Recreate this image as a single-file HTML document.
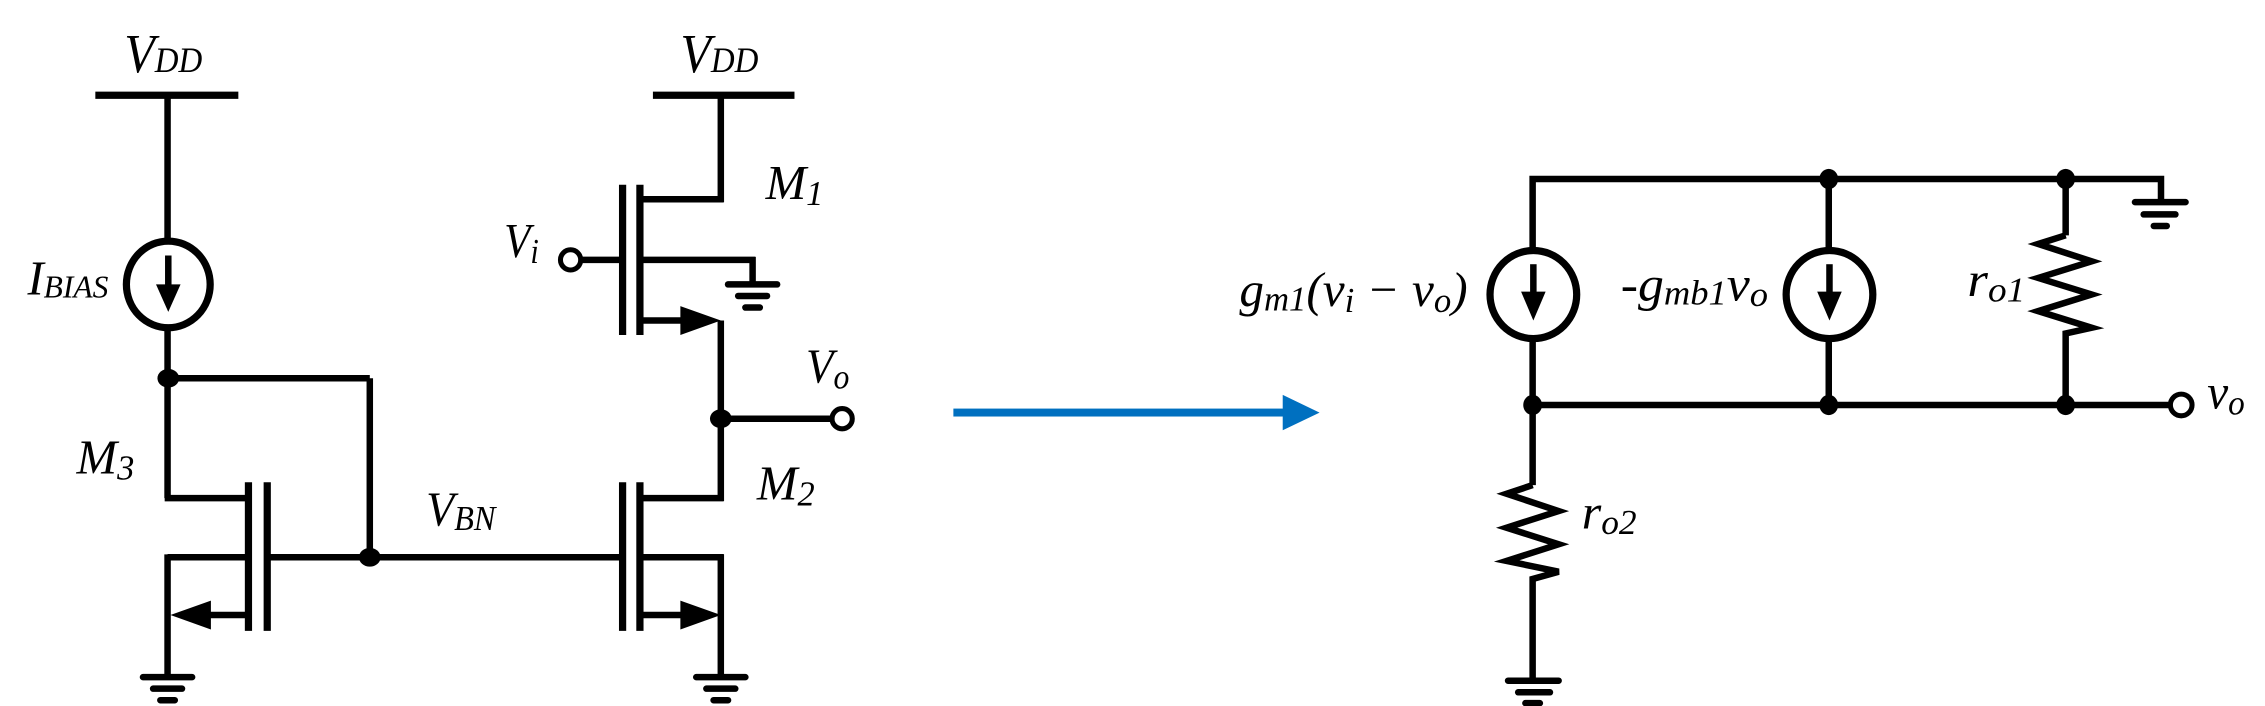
<!DOCTYPE html>
<html><head><meta charset="utf-8"><style>
html,body{margin:0;padding:0;background:#fff;}
svg{display:block;}
text{font-family:"Liberation Serif",serif;font-style:italic;fill:#000;}
</style></head><body>
<svg width="2265" height="706" viewBox="0 0 1568 489" preserveAspectRatio="none" xmlns="http://www.w3.org/2000/svg">
<g stroke="#000" stroke-width="4.5" fill="none" stroke-linecap="butt">
  <line x1="66" y1="66" x2="165" y2="66" stroke-width="5"/>
  <line x1="116" y1="66" x2="116" y2="167"/>
  <ellipse cx="116.5" cy="197" rx="29" ry="30" stroke-width="5"/>
  <line x1="116.5" y1="177" x2="116.5" y2="200"/>
  <line x1="116" y1="227" x2="116" y2="345"/>
  <line x1="116" y1="262" x2="256" y2="262"/>
  <line x1="256" y1="262" x2="256" y2="387"/>
  <line x1="114" y1="345" x2="174" y2="345"/>
  <line x1="172" y1="334" x2="172" y2="437" stroke-width="5"/>
  <line x1="185" y1="334" x2="185" y2="437" stroke-width="5"/>
  <line x1="185" y1="386" x2="431" y2="386"/>
  <line x1="116" y1="386" x2="172" y2="386"/>
  <line x1="116" y1="384" x2="116" y2="469"/>
  <line x1="140" y1="426" x2="172" y2="426"/>
  <line x1="431" y1="334" x2="431" y2="437" stroke-width="5"/>
  <line x1="443" y1="334" x2="443" y2="437" stroke-width="5"/>
  <line x1="443" y1="345" x2="501" y2="345"/>
  <line x1="443" y1="386" x2="501" y2="386"/>
  <line x1="443" y1="426" x2="475" y2="426"/>
  <line x1="499" y1="222" x2="499" y2="347"/>
  <line x1="499" y1="384" x2="499" y2="469"/>
  <line x1="499" y1="290" x2="577" y2="290"/>
  <line x1="452" y1="66" x2="550" y2="66" stroke-width="5"/>
  <line x1="499" y1="66" x2="499" y2="140"/>
  <line x1="431" y1="128" x2="431" y2="232" stroke-width="5"/>
  <line x1="443" y1="128" x2="443" y2="232" stroke-width="5"/>
  <line x1="443" y1="138" x2="501" y2="138"/>
  <line x1="443" y1="180" x2="523" y2="180"/>
  <line x1="521" y1="178" x2="521" y2="197"/>
  <line x1="443" y1="222" x2="475" y2="222"/>
  <line x1="402" y1="180" x2="431" y2="180"/>
</g>
<g fill="#000">
  <polygon points="108,197 125,197 116.5,216"/>
  <polygon points="118,426 146,416 146,436"/>
  <polygon points="499,426 471,416 471,436"/>
  <polygon points="499,222 471,212 471,232"/>
</g>
<g fill="#000">
  <ellipse cx="116.5" cy="262" rx="7.5" ry="6.5"/>
  <ellipse cx="256" cy="386" rx="7.5" ry="6.5"/>
  <ellipse cx="499" cy="290" rx="7.5" ry="6.5"/>
</g>
<g fill="#fff" stroke="#000" stroke-width="3.5">
  <circle cx="395" cy="180" r="7"/>
  <circle cx="583" cy="290" r="7"/>
</g>
<g stroke="#000" stroke-width="4.5" stroke-linecap="round">
  <line x1="99" y1="469" x2="133" y2="469"/><line x1="106" y1="477" x2="126" y2="477"/><line x1="111" y1="485" x2="121" y2="485"/>
  <line x1="482" y1="469" x2="516" y2="469"/><line x1="489" y1="477" x2="509" y2="477"/><line x1="494" y1="485" x2="504" y2="485"/>
  <line x1="504" y1="197" x2="538" y2="197"/><line x1="511" y1="205" x2="531" y2="205"/><line x1="516" y1="213" x2="526" y2="213"/>
</g>
<g>
  <text x="86" y="50" font-size="38" textLength="54" lengthAdjust="spacingAndGlyphs">V<tspan font-size="25">DD</tspan></text>
  <text x="471" y="50" font-size="38" textLength="54" lengthAdjust="spacingAndGlyphs">V<tspan font-size="25">DD</tspan></text>
  <text x="530" y="138" font-size="34" textLength="40" lengthAdjust="spacingAndGlyphs">M<tspan font-size="24" dy="4">1</tspan></text>
  <text x="19" y="204" font-size="34" textLength="56" lengthAdjust="spacingAndGlyphs">I<tspan font-size="22" dy="2">BIAS</tspan></text>
  <text x="53" y="328" font-size="34" textLength="40" lengthAdjust="spacingAndGlyphs">M<tspan font-size="24" dy="4">3</tspan></text>
  <text x="295" y="364" font-size="34" textLength="48" lengthAdjust="spacingAndGlyphs">V<tspan font-size="24" dy="3">BN</tspan></text>
  <text x="524" y="346" font-size="34" textLength="40" lengthAdjust="spacingAndGlyphs">M<tspan font-size="24" dy="4">2</tspan></text>
  <text x="349" y="178" font-size="34" textLength="24" lengthAdjust="spacingAndGlyphs">V<tspan font-size="24" dy="4">i</tspan></text>
  <text x="558" y="265" font-size="34" textLength="30" lengthAdjust="spacingAndGlyphs">V<tspan font-size="24" dy="4">o</tspan></text>
</g>
<g fill="#0070c0">
  <rect x="660" y="283" width="230" height="5.5"/>
  <polygon points="888,273.5 913.5,285.8 888,298"/>
</g>
<g stroke="#000" stroke-width="4.5" fill="none">
  <polyline points="1061,174 1061,124 1496,124 1496,140"/>
  <line x1="1266" y1="124" x2="1266" y2="174"/>
  <line x1="1430" y1="124" x2="1430" y2="163"/>
  <ellipse cx="1061.5" cy="204" rx="30" ry="30.5" stroke-width="5"/>
  <ellipse cx="1266.5" cy="204" rx="30" ry="30.5" stroke-width="5"/>
  <line x1="1061.5" y1="183" x2="1061.5" y2="205"/>
  <line x1="1266.5" y1="183" x2="1266.5" y2="205"/>
  <line x1="1061" y1="234" x2="1061" y2="336"/>
  <line x1="1266" y1="234" x2="1266" y2="281"/>
  <line x1="1061" y1="280.5" x2="1503" y2="280.5"/>
  <polyline points="1430,163 1411,169 1448,181 1411,192.5 1448,204 1411,215.5 1448,227 1430,231 1430,281" stroke-linejoin="miter"/>
  <polyline points="1061,336 1043,342 1079,354 1043,365.5 1079,377 1043,388.5 1079,396 1061,401 1061,471"/>
</g>
<g stroke="#000" stroke-width="4.5" stroke-linecap="round">
  <line x1="1478" y1="140" x2="1513" y2="140"/><line x1="1484" y1="148.5" x2="1506" y2="148.5"/><line x1="1491" y1="156.5" x2="1500" y2="156.5"/>
  <line x1="1044" y1="471.5" x2="1079" y2="471.5"/><line x1="1051" y1="479.5" x2="1073" y2="479.5"/><line x1="1056" y1="487" x2="1066" y2="487"/>
</g>
<g fill="#000">
  <polygon points="1053,202 1070,202 1061.5,222"/>
  <polygon points="1258,202 1275,202 1266.5,222"/>
</g>
<g fill="#000">
  <ellipse cx="1266" cy="124" rx="6.5" ry="7"/>
  <ellipse cx="1430" cy="124" rx="6.5" ry="7"/>
  <ellipse cx="1061" cy="280.5" rx="6.5" ry="7"/>
  <ellipse cx="1266" cy="280.5" rx="6.5" ry="7"/>
  <ellipse cx="1430" cy="280.5" rx="6.5" ry="7"/>
</g>
<circle cx="1510" cy="280.5" r="7.5" fill="#fff" stroke="#000" stroke-width="3.5"/>
<g>
  <text x="858" y="212" font-size="34" textLength="158" lengthAdjust="spacingAndGlyphs">g<tspan font-size="24" dy="3">m1</tspan><tspan dy="-3">(v</tspan><tspan font-size="24" dy="4">i</tspan><tspan dy="-4"> − v</tspan><tspan font-size="24" dy="4">o</tspan><tspan dy="-4">)</tspan></text>
  <text x="1122" y="208" font-size="34" textLength="102" lengthAdjust="spacingAndGlyphs">-g<tspan font-size="24" dy="3">mb1</tspan><tspan dy="-3">v</tspan><tspan font-size="24" dy="4">o</tspan></text>
  <text x="1362" y="205" font-size="34" textLength="40" lengthAdjust="spacingAndGlyphs">r<tspan font-size="24" dy="4">o1</tspan></text>
  <text x="1095" y="366" font-size="34" textLength="38" lengthAdjust="spacingAndGlyphs">r<tspan font-size="24" dy="4">o2</tspan></text>
  <text x="1528" y="283" font-size="34" textLength="26" lengthAdjust="spacingAndGlyphs">v<tspan font-size="24" dy="4">o</tspan></text>
</g>
</svg>
</body></html>
